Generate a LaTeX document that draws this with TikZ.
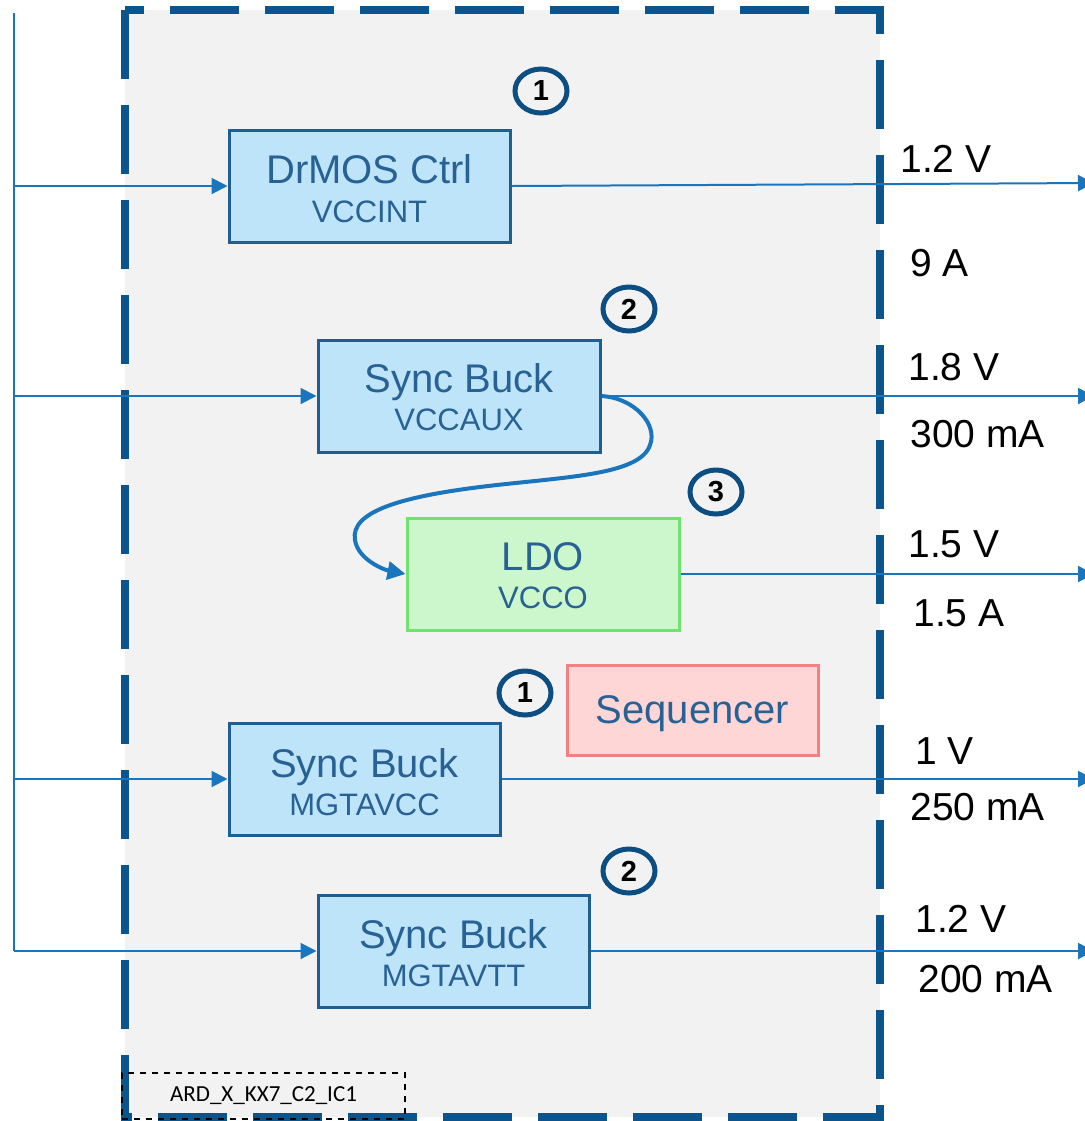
\documentclass[tikz,border=0pt]{standalone}
\usepackage{fontspec}
\setmainfont{Liberation Sans}
\newfontfamily\tagfont{Carlito}
\usetikzlibrary{arrows.meta,shapes.geometric}

\definecolor{bggray}{RGB}{242,242,242}
\definecolor{frameblue}{RGB}{12,84,140}
\definecolor{boxfill}{RGB}{190,228,250}
\definecolor{boxedge}{RGB}{30,94,145}
\definecolor{boxtext}{RGB}{40,98,148}
\definecolor{ldofill}{RGB}{204,247,204}
\definecolor{ldoedge}{RGB}{112,226,112}
\definecolor{seqfill}{RGB}{255,214,214}
\definecolor{seqedge}{RGB}{240,130,130}
\definecolor{wire}{RGB}{27,117,188}
\definecolor{ringedge}{RGB}{12,78,130}

\begin{document}
\begin{tikzpicture}[x=0.5pt,y=-0.5pt,
  frame/.style={draw=frameblue, line width=4pt, dash pattern=on 34.5pt off 13pt},
  blk/.style={draw=boxedge, fill=boxfill, line width=1.5pt, minimum height=56pt, inner sep=0pt},
  ldoblk/.style={draw=ldoedge, fill=ldofill, line width=1.5pt, minimum height=56pt, inner sep=0pt},
  seqblk/.style={draw=seqedge, fill=seqfill, line width=1.5pt, minimum height=45pt, inner sep=0pt},
  ttl/.style={anchor=base, inner sep=0pt, text=boxtext, font=\fontsize{20}{24}\selectfont},
  sub/.style={anchor=base, inner sep=0pt, text=boxtext, font=\fontsize{15.5}{18}\selectfont},
  vlab/.style={anchor=base west, inner sep=0pt, text=black, font=\fontsize{19.5}{23}\selectfont},
  num/.style={ellipse, draw=ringedge, line width=2.5pt, minimum width=26pt, minimum height=22pt,
              inner sep=0pt, font=\bfseries\fontsize{14.5}{15}\selectfont},
  flow/.style={draw=wire, line width=1pt, -{Triangle[length=8pt,width=8pt]}},
  bus/.style={draw=wire, line width=1pt},
  loop/.style={draw=wire, line width=2pt, -{Triangle[length=9pt,width=9pt]}}
]
\useasboundingbox (0,0) rectangle (1084,1121);

% module outline
\fill[bggray] (125,10) rectangle (880,1117);
\draw[frame] (125,10) rectangle (880,1117);

% regulator blocks
\node[blk, minimum width=140.5pt] (vccint) at (369.5,186) {};
\node[ttl] (vccint-t) at (369.5,183) {DrMOS Ctrl};
\node[sub] (vccint-s) at (369.5,222) {VCCINT};

\node[blk, minimum width=141pt] (vccaux) at (459,396) {};
\node[ttl] (vccaux-t) at (459,392) {Sync Buck};
\node[sub] (vccaux-s) at (459,430) {VCCAUX};

\node[ldoblk, minimum width=136pt] (vcco) at (543,574) {};
\node[ttl] (vcco-t) at (543,570) {LDO};
\node[sub] (vcco-s) at (543,608) {VCCO};

\node[seqblk, minimum width=125.5pt] (seq) at (692.5,710) {};
\node[ttl] (seq-t) at (692.5,723) {Sequencer};

\node[blk, minimum width=135.5pt] (mgtavcc) at (364.5,779) {};
\node[ttl] (mgtavcc-t) at (364.5,777) {Sync Buck};
\node[sub] (mgtavcc-s) at (364.5,815) {MGTAVCC};

\node[blk, minimum width=135.5pt] (mgtavtt) at (453.5,951) {};
\node[ttl] (mgtavtt-t) at (453.5,948) {Sync Buck};
\node[sub] (mgtavtt-s) at (453.5,986) {MGTAVTT};

% sequence order marks
\node[num] (n1a) at (541,91) {1};
\node[num] (n2a) at (629,309) {2};
\node[num] (n3) at (716,492) {3};
\node[num] (n1b) at (525,693) {1};
\node[num] (n2b) at (629,871) {2};

% input bus
\coordinate (bustop) at (14,13);
\coordinate (busbot) at (14,951);
\draw[bus] (bustop) -- (busbot);
\draw[flow] (bustop |- vccint.west) -- (vccint.west);
\draw[flow] (bustop |- vccaux.west) -- (vccaux.west);
\draw[flow] (bustop |- mgtavcc.west) -- (mgtavcc.west);
\draw[flow] (bustop |- mgtavtt.west) -- (mgtavtt.west);

% rail outputs
\coordinate (o1) at (1094,183);
\coordinate (o2) at (1094,396);
\coordinate (o3) at (1094,574);
\coordinate (o4) at (1094,779);
\coordinate (o5) at (1094,951);
\draw[flow] (vccint.east) -- (o1);
\draw[flow] (vccaux.east) -- (o2);
\draw[flow] (vcco.east) -- (o3);
\draw[flow] (mgtavcc.east) -- (o4);
\draw[flow] (mgtavtt.east) -- (o5);

% VCCAUX feeds the LDO
\coordinate (c1) at (650,445);
\coordinate (c2) at (480,487);
\coordinate (c3) at (355,540);
\draw[loop] (vccaux.east) .. controls (635,398) and (658,425) .. (c1)
  .. controls (640,476) and (560,477) .. (c2)
  .. controls (400,497) and (350,512) .. (c3)
  .. controls (358,560) and (385,570) .. (vcco.west);

% rail ratings
\node[vlab] (r1v) at (900,172) {1.2 V};
\node[vlab] (r1a) at (910,276) {9 A};
\node[vlab] (r2v) at (908,380) {1.8 V};
\node[vlab] (r2a) at (910,447) {300 mA};
\node[vlab] (r3v) at (908,557) {1.5 V};
\node[vlab] (r3a) at (913,626) {1.5 A};
\node[vlab] (r4v) at (915,764) {1 V};
\node[vlab] (r4a) at (910,820) {250 mA};
\node[vlab] (r5v) at (915,932) {1.2 V};
\node[vlab] (r5a) at (918,992) {200 mA};

% part reference tag
\node[draw=black, dashed, line width=0.6pt, minimum width=141.5pt, minimum height=23pt,
      inner sep=0pt, font=\tagfont\fontsize{11.5}{13}\selectfont] (tag) at (263.5,1096) {ARD\_X\_KX7\_C2\_IC1};
\end{tikzpicture}
\end{document}
